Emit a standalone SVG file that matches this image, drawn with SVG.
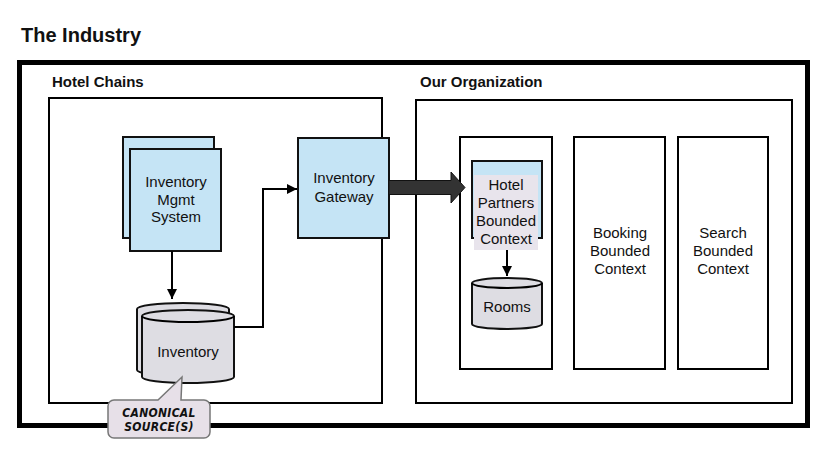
<svg xmlns="http://www.w3.org/2000/svg" width="840" height="467" viewBox="0 0 840 467">
<defs>
<style>
text{font-family:"Liberation Sans",Arial,sans-serif;fill:#111;}
.t{font-size:15px;text-anchor:middle;}
.h{font-weight:bold;}
.blue{fill:#c5e4f5;stroke:#111;stroke-width:2;}
.cyl{fill:#dedde3;stroke:#111;stroke-width:2;}
.box{fill:#fff;stroke:#000;stroke-width:2;}
.ln{fill:none;stroke:#000;stroke-width:2;}
.hand{font-family:"DejaVu Sans Condensed","DejaVu Sans",sans-serif;font-size:12px;font-weight:bold;font-style:italic;text-anchor:middle;letter-spacing:0.3px;}
</style>
<marker id="ah" viewBox="0 0 10 10" refX="10" refY="5" markerWidth="12" markerHeight="10" markerUnits="userSpaceOnUse" orient="auto"><path d="M0,0L10,5L0,10z" fill="#000"/></marker>
</defs>
<rect width="840" height="467" fill="#fff"/>
<text x="21" y="42" class="h" style="font-size:20px">The Industry</text>
<rect x="19.5" y="62.5" width="788" height="363" fill="none" stroke="#000" stroke-width="5"/>
<g id="hotel-chains">
<text x="52" y="87" class="h" style="font-size:15px">Hotel Chains</text>
<rect x="49" y="98" width="333" height="305" class="box"/>
</g>
<g id="our-org">
<text x="420" y="87" class="h" style="font-size:15px">Our Organization</text>
<rect x="416" y="100" width="376" height="303" class="box"/>
</g>
<g id="ims">
<rect x="123" y="137" width="91" height="101" class="blue"/>
<rect x="130" y="149" width="91" height="102" class="blue"/>
<text class="t" x="176" y="187">Inventory</text>
<text class="t" x="176" y="205">Mgmt</text>
<text class="t" x="176" y="222">System</text>
</g>
<g id="inventory">
<path d="M137,309 v61 a46,6 0 0 0 92,0 v-61 a46,6 0 0 0 -92,0 z" class="cyl"/>
<path d="M142,316 v61 a46,6 0 0 0 92,0 v-61 a46,6 0 0 0 -92,0 z" class="cyl"/>
<path d="M142,316 a46,6 0 0 0 92,0" class="ln"/>
<text class="t" x="188" y="357">Inventory</text>
</g>
<g id="gateway">
<rect x="298" y="138" width="91" height="100" class="blue"/>
<text class="t" x="344" y="183">Inventory</text>
<text class="t" x="344" y="202">Gateway</text>
</g>
<g id="callout">
<path d="M114,400 H158 L182,377 L181,400 H204 a6,6 0 0 1 6,6 V432 a6,6 0 0 1 -6,6 H114 a6,6 0 0 1 -6,-6 V406 a6,6 0 0 1 6,-6 z" fill="#e7e0e8" stroke="#777" stroke-width="1.5"/>
<text class="hand" x="159" y="417">CANONICAL</text>
<text class="hand" x="159" y="431">SOURCE(S)</text>
</g>
<g id="hpbc-context">
<rect x="460" y="137" width="92" height="232" class="box"/>
</g>
<g id="hpbc">
<rect x="472" y="161" width="70" height="77" class="blue"/>
<rect x="474" y="175" width="64" height="75" fill="#e8e4ec"/>
<text class="t" x="506" y="190">Hotel</text>
<text class="t" x="506" y="208">Partners</text>
<text class="t" x="506" y="226">Bounded</text>
<text class="t" x="506" y="244">Context</text>
</g>
<g id="rooms">
<path d="M472,283 v41 a35,5 0 0 0 70,0 v-41 a35,5 0 0 0 -70,0 z" class="cyl"/>
<path d="M472,283 a35,5 0 0 0 70,0" class="ln"/>
<text class="t" x="507" y="312">Rooms</text>
</g>
<g id="booking">
<rect x="574" y="137" width="91" height="232" class="box"/>
<text class="t" x="620" y="238">Booking</text>
<text class="t" x="620" y="256">Bounded</text>
<text class="t" x="620" y="274">Context</text>
</g>
<g id="search">
<rect x="678" y="137" width="90" height="232" class="box"/>
<text class="t" x="723" y="238">Search</text>
<text class="t" x="723" y="256">Bounded</text>
<text class="t" x="723" y="274">Context</text>
</g>
<g id="connectors">
<path d="M172,251 V299" class="ln" marker-end="url(#ah)"/>
<path d="M234,327 H263 V189 H297" class="ln" marker-end="url(#ah)"/>
<path d="M389,180.5 H451 V172 L465,187.5 L451,203 V194.5 H389 z" fill="#333" stroke="#111" stroke-width="1"/>
<path d="M507,250 V276" class="ln" marker-end="url(#ah)"/>
</g>
</svg>
